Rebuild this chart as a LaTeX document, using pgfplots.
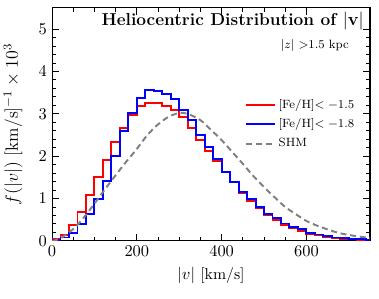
\documentclass[border=0pt]{standalone}
\usepackage{pgfplots}
\pgfplotsset{compat=1.18}
\begin{document}
\begin{tikzpicture}
\begin{axis}[
  scale only axis, width=212pt, height=155.3pt,
  xmin=0, xmax=750, ymin=0, ymax=5.5,
  xtick={0,200,400,600}, minor x tick num=3,
  ytick={0,1,2,3,4,5}, minor y tick num=4,
  tick align=inside, tick pos=both,
  major tick length=4.5pt, minor tick length=2.5pt,
  axis line style={line width=0.7pt},
  every tick/.style={black, line width=0.6pt},
  tick label style={font=\fontsize{10.5}{12}\selectfont},
  xlabel={$|v|$ [km/s]}, ylabel={$f(|v|)$ [km/s]$^{-1}\times 10^3$},
  xlabel style={at={(axis description cs:0.5,-0.15)}, anchor=center, font=\fontsize{10.5}{12}\selectfont},
  ylabel style={at={(axis description cs:-0.123,0.5)}, anchor=center, font=\fontsize{11.8}{14}\selectfont},
  legend cell align=left,
  legend style={at={(0.975,0.635)}, anchor=north east, draw=none, fill=none,
    font=\footnotesize, row sep=1.5pt},
  legend image code/.code={\draw[#1] (0pt,0pt) -- (19pt,0pt);},
]
\addplot[red, line width=1.3pt, const plot mark left] coordinates {
(0,0.05)(20,0.13)(40,0.37)(60,0.68)(80,1.09)(100,1.51)(120,1.92)(140,2.34)(160,2.66)(180,2.98)(200,3.18)(220,3.25)(240,3.25)(260,3.19)(280,3.09)(300,2.92)(320,2.66)(340,2.38)(360,2.13)(380,1.88)(400,1.62)(420,1.38)(440,1.14)(460,0.95)(480,0.78)(500,0.60)(520,0.49)(540,0.38)(560,0.30)(580,0.24)(600,0.17)(620,0.13)(640,0.09)(660,0.07)(680,0.05)(700,0.04)(720,0.03)(740,0.02)(760,0.02)};
\addlegendentry{[Fe/H]$<-1.5$}
\addplot[blue, line width=1.3pt, const plot mark left] coordinates {
(0,0.02)(20,0.08)(40,0.19)(60,0.39)(80,0.64)(100,0.98)(120,1.42)(140,2.00)(160,2.60)(180,3.01)(200,3.37)(220,3.57)(240,3.55)(260,3.47)(280,3.34)(300,3.08)(320,2.86)(340,2.50)(360,2.22)(380,1.93)(400,1.63)(420,1.39)(440,1.16)(460,0.98)(480,0.80)(500,0.64)(520,0.53)(540,0.41)(560,0.33)(580,0.27)(600,0.19)(620,0.15)(640,0.11)(660,0.08)(680,0.07)(700,0.05)(720,0.04)(740,0.03)(760,0.03)};
\addlegendentry{[Fe/H]$<-1.8$}
\addplot[gray, line width=1.3pt, dash pattern=on 4pt off 2.5pt, smooth] coordinates {
(0,0)(20,0.06)(50,0.28)(75,0.55)(100,0.88)(125,1.22)(150,1.55)(175,1.87)(200,2.17)(225,2.50)(250,2.75)(275,2.93)(300,3.02)(320,3.00)(350,2.85)(375,2.62)(400,2.38)(425,2.10)(450,1.82)(475,1.53)(500,1.27)(525,1.03)(550,0.80)(575,0.63)(600,0.47)(625,0.36)(650,0.27)(675,0.19)(700,0.14)(725,0.10)(750,0.07)};
\addlegendentry{SHM}
\node[anchor=east, font=\fontsize{11.5}{14}\selectfont\bfseries] at (rel axis cs:0.997,0.944) {Heliocentric Distribution of $|\mathbf{v}|$};
\node[anchor=east, font=\footnotesize] at (rel axis cs:0.95,0.837) {$|z|$ $>$1.5 kpc};
\end{axis}
\pgfresetboundingbox
\path ([shift={(-34.7pt,-38.7pt)}]current axis.south west) rectangle ([shift={(6pt,5.3pt)}]current axis.north east);
\end{tikzpicture}
\end{document}
